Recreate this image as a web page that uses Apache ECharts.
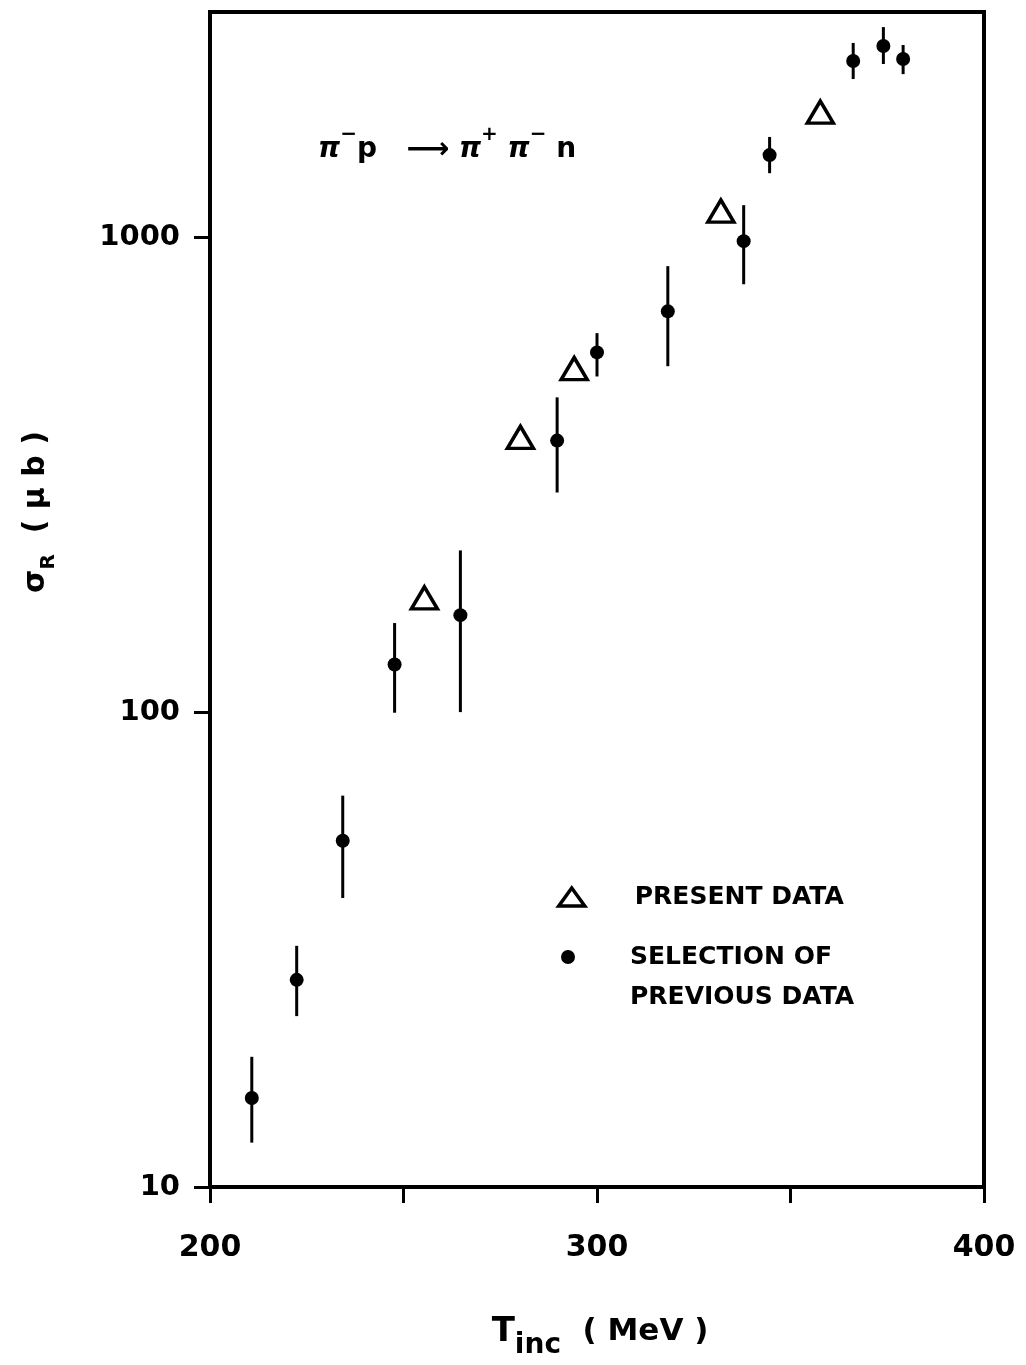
<!DOCTYPE html>
<html>
<head>
<meta charset="utf-8">
<script src="https://cdn.jsdelivr.net/npm/echarts@6/dist/echarts.min.js"></script>
<style>
  html, body { margin: 0; padding: 0; background: #fff; }
  #chart { width: 1026px; height: 1365px; }
</style>
</head>
<body>
<div id="chart"></div>
<script>
// present data (open triangles)
var presentT = [255.4, 280.2, 294.1, 332.0, 357.7];
var presentSigma = [174, 379, 529, 1135, 1834];

// selection of previous data (dots with error bars)
var prevT = [210.8, 222.4, 234.3, 247.7, 264.7, 289.7, 300.0, 318.3, 337.9, 344.6, 366.2, 374.0, 379.1];
var prevSigma = [15.4, 27.3, 53.6, 126, 160, 373, 572, 698, 981, 1489, 2350, 2527, 2372];
var prevLow = [12.4, 22.9, 40.6, 99.7, 100, 290, 509, 535, 796, 1364, 2153, 2316, 2205];
var prevHigh = [18.8, 32.2, 66.7, 154, 219, 460, 628, 869, 1168, 1626, 2565, 2770, 2539];

// axis ticks
var xTicks = [200, 250, 300, 350, 400];
var xLabels = [200, 300, 400];
var yTicks = [10, 100, 1000];

var FONT = 'DejaVu Sans';

var chart = echarts.init(document.getElementById('chart'));

chart.setOption({
  animation: false,
  backgroundColor: '#fff',
  grid: {
    left: 210,
    right: 42,
    top: 12,
    bottom: 178,
    show: true,
    borderColor: '#000',
    borderWidth: 4
  },
  xAxis: {
    type: 'value',
    min: 200,
    max: 400,
    interval: 50,
    axisLine: { lineStyle: { color: '#000', width: 4 } },
    axisTick: { show: true, customValues: xTicks, length: 16, lineStyle: { color: '#000', width: 3 } },
    axisLabel: {
      customValues: xLabels,
      margin: 46,
      color: '#000',
      fontFamily: FONT,
      fontWeight: 'bold',
      fontSize: 30
    },
    splitLine: { show: false }
  },
  yAxis: {
    type: 'log',
    logBase: 10,
    min: 10,
    max: 2980,
    axisLine: { lineStyle: { color: '#000', width: 4 } },
    axisTick: { show: true, customValues: yTicks, length: 16, lineStyle: { color: '#000', width: 3 } },
    axisLabel: {
      customValues: yTicks,
      margin: 30,
      color: '#000',
      fontFamily: FONT,
      fontWeight: 'bold',
      fontSize: 29,
      formatter: function (v) { return String(Math.round(v)); }
    },
    splitLine: { show: false },
    minorTick: { show: false }
  },
  legend: [
    {
      data: [{ name: 'PRESENT DATA', icon: 'triangle', itemStyle: { color: '#fff', borderColor: '#000', borderWidth: 3.5 } }],
      left: 557,
      top: 882,
      padding: 0,
      itemWidth: 26,
      itemHeight: 18,
      symbolKeepAspect: false,
      selectedMode: false,
      textStyle: {
        color: '#000',
        fontFamily: FONT,
        fontWeight: 'bold',
        fontSize: 25,
        lineHeight: 30,
        padding: [0, 0, 0, 45]
      }
    },
    {
      data: [{ name: 'SELECTION OF PREVIOUS DATA', icon: 'circle' }],
      left: 561,
      top: 912,
      padding: 0,
      itemWidth: 14,
      itemHeight: 14,
      selectedMode: false,
      formatter: function (name) {
        var parts = name.split(' PREVIOUS');
        return '{g| }\n{a|' + parts[0] + '}\n{a|PREVIOUS' + parts[1] + '}';
      },
      textStyle: {
        color: '#000',
        fontFamily: FONT,
        fontWeight: 'bold',
        fontSize: 25,
        padding: [0, 0, 0, 50],
        rich: {
          g: { fontSize: 10, lineHeight: 40 },
          a: { color: '#000', fontFamily: FONT, fontWeight: 'bold', fontSize: 25, lineHeight: 40 }
        }
      }
    }
  ],
  graphic: [
    {
      // reaction label
      type: 'text',
      x: 318,
      y: 150,
      style: {
        text: '{pi|π}{sup|−}{t|p}{t|   }{ar|⟶}{pi| π}{sup|+}{pi| π}{sup|−}{t| n}',
        align: 'left',
        verticalAlign: 'middle',
        fill: '#000',
        rich: {
          pi: { fontFamily: FONT, fontWeight: 'bold', fontStyle: 'italic', fontSize: 28, lineHeight: 50 },
          t: { fontFamily: FONT, fontWeight: 'bold', fontSize: 28, lineHeight: 50 },
          ar: { fontFamily: FONT, fontWeight: 'bold', fontSize: 30, lineHeight: 50 },
          sup: { fontFamily: FONT, fontWeight: 'bold', fontSize: 20, lineHeight: 20, verticalAlign: 'top' }
        }
      }
    },
    {
      // y axis title
      type: 'text',
      x: 36,
      y: 512,
      rotation: Math.PI / 2,
      style: {
        text: '{s|σ}{r|R}{s|  ( μ b )}',
        align: 'center',
        verticalAlign: 'middle',
        fill: '#000',
        rich: {
          s: { fontFamily: FONT, fontWeight: 'bold', fontSize: 30, lineHeight: 46 },
          r: { fontFamily: FONT, fontWeight: 'bold', fontSize: 20, lineHeight: 20, verticalAlign: 'bottom' }
        }
      }
    },
    {
      // x axis title
      type: 'text',
      x: 600,
      y: 1332,
      style: {
        text: '{T|T}{sub|inc}{t|  ( MeV )}',
        align: 'center',
        verticalAlign: 'middle',
        fill: '#000',
        rich: {
          T: { fontFamily: FONT, fontWeight: 'bold', fontSize: 34, lineHeight: 56 },
          t: { fontFamily: FONT, fontWeight: 'bold', fontSize: 31, lineHeight: 56 },
          sub: { fontFamily: FONT, fontWeight: 'bold', fontSize: 28, lineHeight: 28, verticalAlign: 'bottom' }
        }
      }
    }
  ],
  series: [
    {
      name: 'errors',
      type: 'custom',
      z: 1,
      data: prevT.map(function (t, i) { return [t, prevLow[i], prevHigh[i]]; }),
      encode: { x: 0, y: [1, 2] },
      renderItem: function (params, api) {
        var lo = api.coord([api.value(0), api.value(1)]);
        var hi = api.coord([api.value(0), api.value(2)]);
        return {
          type: 'line',
          shape: { x1: lo[0], y1: lo[1], x2: hi[0], y2: hi[1] },
          style: { stroke: '#000', lineWidth: 3 }
        };
      }
    },
    {
      name: 'PRESENT DATA',
      type: 'scatter',
      z: 3,
      symbol: 'triangle',
      symbolSize: [26, 22],
      itemStyle: { color: '#fff', borderColor: '#000', borderWidth: 3.5, opacity: 1 },
      data: presentT.map(function (t, i) { return [t, presentSigma[i]]; })
    },
    {
      name: 'SELECTION OF PREVIOUS DATA',
      type: 'scatter',
      z: 3,
      symbol: 'circle',
      symbolSize: 14,
      itemStyle: { color: '#000', opacity: 1 },
      data: prevT.map(function (t, i) { return [t, prevSigma[i]]; })
    }
  ]
});
</script>
</body>
</html>
